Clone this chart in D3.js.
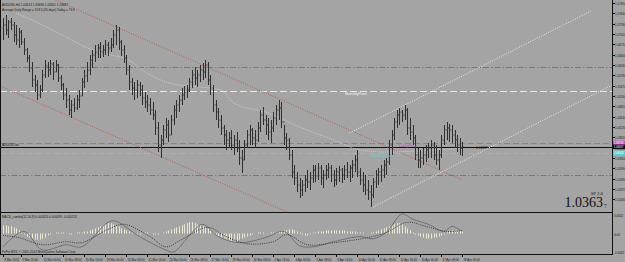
<!DOCTYPE html>
<html>
<head>
<meta charset="utf-8">
<script src="https://cdn.jsdelivr.net/npm/d3@7"></script>
<style>
body{margin:0;background:#a4a4a4;overflow:hidden;}
svg{display:block;}
</style>
</head>
<body>
<svg id="chart"></svg>
<script>
//////////////////////////////////////////////////////////////
// data (AUDUSD H4)
var highs = [
1.0750,1.0759,1.0744,1.0750,1.0738,1.0729,1.0720,1.0714,1.0690,1.0660,
1.0639,1.0618,1.0579,1.0564,1.0549,1.0594,1.0624,1.0618,1.0624,1.0618,
1.0624,1.0612,1.0579,1.0555,1.0540,1.0519,1.0504,1.0510,1.0519,1.0534,
1.0570,1.0594,1.0618,1.0639,1.0654,1.0669,1.0672,1.0678,1.0669,1.0684,
1.0678,1.0690,1.0714,1.0729,1.0723,1.0684,1.0669,1.0639,1.0609,1.0570,
1.0558,1.0564,1.0558,1.0549,1.0528,1.0519,1.0510,1.0498,1.0474,1.0438,
1.0399,1.0429,1.0450,1.0444,1.0459,1.0489,1.0504,1.0519,1.0540,1.0546,
1.0549,1.0570,1.0594,1.0603,1.0594,1.0609,1.0615,1.0624,1.0618,1.0579,
1.0549,1.0504,1.0480,1.0459,1.0429,1.0414,1.0408,1.0414,1.0399,1.0408,
1.0384,1.0354,1.0384,1.0414,1.0429,1.0420,1.0414,1.0438,1.0474,1.0483,
1.0459,1.0450,1.0444,1.0468,1.0489,1.0504,1.0498,1.0429,1.0405,1.0390,
1.0354,1.0309,1.0288,1.0270,1.0264,1.0279,1.0294,1.0288,1.0309,1.0309,
1.0315,1.0309,1.0294,1.0309,1.0315,1.0309,1.0294,1.0300,1.0306,1.0300,
1.0309,1.0318,1.0309,1.0324,1.0339,1.0354,1.0300,1.0288,1.0279,1.0264,
1.0249,1.0270,1.0294,1.0300,1.0309,1.0324,1.0330,1.0384,1.0414,1.0450,
1.0474,1.0480,1.0474,1.0489,1.0480,1.0450,1.0429,1.0399,1.0360,1.0354,
1.0360,1.0369,1.0375,1.0384,1.0378,1.0369,1.0354,1.0399,1.0429,1.0438,
1.0432,1.0429,1.0414,1.0399,1.0390,1.0378];

var lows = [
1.0684,1.0699,1.0690,1.0714,1.0678,1.0669,1.0660,1.0669,1.0639,1.0618,
1.0588,1.0543,1.0528,1.0504,1.0510,1.0528,1.0570,1.0573,1.0579,1.0564,
1.0588,1.0558,1.0534,1.0504,1.0480,1.0459,1.0450,1.0468,1.0474,1.0480,
1.0516,1.0540,1.0558,1.0579,1.0600,1.0618,1.0630,1.0630,1.0633,1.0639,
1.0636,1.0648,1.0660,1.0669,1.0654,1.0636,1.0615,1.0579,1.0534,1.0519,
1.0504,1.0510,1.0516,1.0489,1.0480,1.0468,1.0459,1.0444,1.0399,1.0348,
1.0330,1.0369,1.0390,1.0378,1.0399,1.0429,1.0450,1.0468,1.0489,1.0504,
1.0510,1.0528,1.0540,1.0549,1.0543,1.0558,1.0564,1.0570,1.0549,1.0519,
1.0468,1.0444,1.0420,1.0399,1.0369,1.0354,1.0360,1.0354,1.0339,1.0348,
1.0309,1.0285,1.0324,1.0360,1.0369,1.0369,1.0360,1.0378,1.0408,1.0429,
1.0399,1.0384,1.0375,1.0408,1.0429,1.0444,1.0420,1.0369,1.0354,1.0324,
1.0270,1.0249,1.0228,1.0210,1.0216,1.0228,1.0240,1.0234,1.0255,1.0258,
1.0264,1.0249,1.0240,1.0264,1.0270,1.0258,1.0243,1.0249,1.0258,1.0255,
1.0264,1.0270,1.0258,1.0270,1.0288,1.0273,1.0249,1.0228,1.0219,1.0204,
1.0183,1.0210,1.0240,1.0249,1.0258,1.0270,1.0279,1.0309,1.0339,1.0384,
1.0420,1.0429,1.0438,1.0444,1.0399,1.0384,1.0369,1.0324,1.0300,1.0300,
1.0309,1.0318,1.0330,1.0330,1.0324,1.0309,1.0294,1.0330,1.0369,1.0384,
1.0378,1.0375,1.0360,1.0348,1.0339,1.0336];

var closes = [
1.0729,1.0714,1.0738,1.0729,1.0699,1.0684,1.0708,1.0678,1.0654,1.0630,
1.0600,1.0564,1.0549,1.0519,1.0534,1.0579,1.0606,1.0594,1.0612,1.0588,
1.0609,1.0570,1.0549,1.0519,1.0504,1.0474,1.0489,1.0480,1.0504,1.0516,
1.0558,1.0576,1.0594,1.0624,1.0639,1.0648,1.0660,1.0648,1.0654,1.0669,
1.0660,1.0669,1.0699,1.0714,1.0678,1.0654,1.0630,1.0594,1.0558,1.0540,
1.0534,1.0549,1.0534,1.0510,1.0498,1.0489,1.0474,1.0459,1.0420,1.0369,
1.0384,1.0414,1.0429,1.0399,1.0444,1.0474,1.0489,1.0504,1.0519,1.0528,
1.0534,1.0558,1.0579,1.0570,1.0579,1.0594,1.0588,1.0609,1.0564,1.0540,
1.0489,1.0468,1.0444,1.0420,1.0399,1.0384,1.0390,1.0369,1.0384,1.0360,
1.0330,1.0324,1.0369,1.0399,1.0414,1.0390,1.0384,1.0420,1.0459,1.0444,
1.0429,1.0408,1.0420,1.0450,1.0474,1.0480,1.0438,1.0390,1.0384,1.0339,
1.0288,1.0270,1.0249,1.0234,1.0249,1.0264,1.0258,1.0270,1.0294,1.0276,
1.0300,1.0270,1.0279,1.0294,1.0300,1.0279,1.0264,1.0288,1.0294,1.0279,
1.0294,1.0288,1.0300,1.0309,1.0324,1.0288,1.0264,1.0249,1.0234,1.0228,
1.0219,1.0258,1.0279,1.0288,1.0294,1.0309,1.0318,1.0369,1.0399,1.0438,
1.0459,1.0468,1.0459,1.0474,1.0420,1.0408,1.0390,1.0339,1.0324,1.0330,
1.0339,1.0354,1.0360,1.0369,1.0339,1.0324,1.0339,1.0384,1.0414,1.0420,
1.0414,1.0399,1.0384,1.0369,1.0360,1.0363];

var firstOpen = 1.0720;

// light moving average, read at a few bars
var maBars = [5,11,24,34,41,48,53,60,67,75,83,88,101,113,126,136,146,164,174];
var maValues = [1.0765,1.0744,1.0693,1.0654,1.0639,1.0624,1.0594,1.0564,1.0549,1.0543,
                1.0534,1.0495,1.0465,1.0423,1.0384,1.0354,1.0348,1.0354,1.0360];

// horizontal levels
var levelNames = ["R1","MonthlyPivot","DailyPivot","Bid","WeeklyPivot","S1"];
var levelPrices = [1.0603,1.0531,1.0375,1.03637,1.0345,1.0279];

// trend lines: [bar, price] pairs
var channelTop = [[20,1.0804],[175,1.0264]];
var channelBottom = [[-1,1.0546],[110,1.0162]];
var upTop = [[132,1.0405],[224,1.0771]];
var upBottom = [[141,1.0183],[232,1.0549]];

// price scale labels
var priceTicks = [1.0795,1.0764,1.0733,1.0702,1.0671,1.0640,1.0609,1.0578,1.0547,1.0516,
                  1.0485,1.0454,1.0423,1.0392,1.0361,1.0330,1.0299,1.0268,1.0237,1.0206];

// time labels
var timeLabelBars = [0,7,15,23,31,39,47,55,63,71,79,87,95,103,111,119,127,135,143,151,159,167,175];
var timeLabels = ["8 Mar 2012","9 Mar 16:00","13 Mar 00:00","14 Mar 08:00","15 Mar 16:00",
  "19 Mar 00:00","20 Mar 08:00","21 Mar 16:00","23 Mar 00:00","26 Mar 08:00","27 Mar 16:00",
  "29 Mar 00:00","30 Mar 08:00","2 Apr 16:00","4 Apr 00:00","5 Apr 08:00","6 Apr 16:00",
  "10 Apr 00:00","11 Apr 08:00","12 Apr 16:00","16 Apr 00:00","17 Apr 08:00","18 Apr 16:00"];

// MACD window
var macdBars = [0,8,15,24,30,40,43,52,62,65,72,76,82,90,100,107,113,118,126,136,141,146,152,156,162,168,171,175];
var macdMain = [-0.0026,0.0004,-0.0032,-0.0022,-0.0026,0.0022,0.0024,-0.0006,-0.0032,-0.0036,
                0.0002,0.0018,-0.0006,-0.0018,-0.0008,0.0004,-0.0024,-0.0026,-0.0016,-0.0006,
                -0.0010,0.0002,0.0038,0.0028,0.0018,0.0004,0.0014,0.0004];
var signalBars = [0,6,15,24,30,40,46,56,62,68,78,85,93,103,108,116,126,139,146,154,161,169,175];
var macdSignal = [-0.0004,-0.0008,-0.0022,-0.0016,-0.0018,0.0008,0.0018,-0.0006,-0.0026,-0.0012,
                  0.0012,-0.0006,-0.0020,-0.0016,-0.0002,-0.0022,-0.0018,-0.0008,0.0002,0.0022,
                  0.0014,0.0004,0.0006];
var macdHist = [
0.0016,0.0016,0.0014,0.0014,0.0012,0.0010,0.0006,0.0002,-0.0002,
-0.0006,-0.0008,-0.0010,-0.0012,-0.0012,-0.0012,-0.0010,-0.0008,
-0.0004,-0.0002,0,0.0002,
0.0002,0.0002,0.0002,0,-0.0002,-0.0002,0,0.0002,0.0002,0.0002,0.0004,0.0004,0.0006,0.0008,0.0010,0.0012,
0.0014,0.0016,0.0018,0.0020,0.0020,0.0018,0.0016,0.0014,0.0010,0.0008,0.0006,0.0004,0.0002,
0,-0.0002,-0.0002,0,0.0002,0.0002,0,-0.0002,-0.0002,-0.0002,0,0.0002,0.0004,0.0006,0.0008,
0.0010,0.0012,0.0014,0.0016,0.0018,0.0020,0.0022,0.0022,0.0020,0.0018,0.0016,0.0014,0.0012,0.0010,0.0006,0.0002,
-0.0002,-0.0006,-0.0008,-0.0010,-0.0012,-0.0014,-0.0016,-0.0016,-0.0014,-0.0012,-0.0010,-0.0008,-0.0006,
-0.0004,-0.0002,0,0.0002,0.0002,0.0002,0,0,0.0002,0.0002,0.0002,0.0004,0.0004,0.0006,0.0006,
0.0008,0.0008,0.0006,0.0004,0.0002,-0.0002,-0.0004,-0.0004,-0.0002,
0.0002,0.0002,0.0004,0.0004,0.0004,0.0006,0.0006,0.0006,0.0006,0.0006,0.0006,0.0006,0.0006,0.0004,0.0004,0.0004,0.0004,0.0002,0.0002,0.0002,0,0,0.0002,
0.0002,0.0004,0.0006,0.0008,0.0010,0.0012,
0.0014,0.0016,0.0018,0.0020,0.0020,0.0018,0.0014,0.0010,0.0006,0.0002,
-0.0002,-0.0004,-0.0006,-0.0008,-0.0010,-0.0010,-0.0010,-0.0008,-0.0008,-0.0006,-0.0004,-0.0002,
0.0002,0.0004,0.0006,0.0006,0.0006,0.0006,0.0006];
var macdScaleLabels = ["0.0042","0.00","-0.0042"];
//////////////////////////////////////////////////////////////

var screen = {width:625, height:262};
var main = {left:0, right:612, top:0, bottom:212};
var sub = {top:213, bottom:254};

// tiny text helper: browsers clamp very small font sizes, so scale a 10px glyph
var addText = function(parent,x,y,str,size,fill,family,anchor)
{
    return parent.append("text")
        .attr("transform","translate("+x+","+y+") scale("+(size/10)+")")
        .attr("font-size",10)
        .attr("font-family",family || "'Liberation Sans',Arial,sans-serif")
        .attr("text-anchor",anchor || "start")
        .attr("fill",fill)
        .text(str);
}

var drawBars = function(g,xScale,yScale)
{
    var bars = g.append("g").attr("stroke","#303030").attr("stroke-width",1);
    highs.forEach(function(h,i)
    {
        var x = Math.round(xScale(i))+0.5;
        var open = i===0 ? firstOpen : closes[i-1];
        bars.append("line").attr("x1",x).attr("x2",x)
            .attr("y1",yScale(h)).attr("y2",yScale(lows[i]));
        bars.append("line").attr("x1",x-1).attr("x2",x)
            .attr("y1",yScale(open)).attr("y2",yScale(open));
        bars.append("line").attr("x1",x).attr("x2",x+1)
            .attr("y1",yScale(closes[i])).attr("y2",yScale(closes[i]));
    })
}

var drawLevels = function(g,yScale)
{
    var styles = {
        "R1":{stroke:"#c85656",dash:"6,2,1.5,2"},
        "MonthlyPivot":{stroke:"#e6e6e6",dash:"7,3"},
        "DailyPivot":{stroke:"#d24fd2",dash:"6,3"},
        "Bid":{stroke:"#101010",dash:null},
        "WeeklyPivot":{stroke:"#4fd6d6",dash:"6,3"},
        "S1":{stroke:"#c85656",dash:"6,2,1.5,2"}
    };
    levelNames.forEach(function(name,i)
    {
        var y = Math.round(yScale(levelPrices[i]))+0.5;
        g.append("line")
            .attr("x1",main.left).attr("x2",main.right)
            .attr("y1",y).attr("y2",y)
            .attr("stroke",styles[name].stroke)
            .attr("stroke-width",1)
            .attr("stroke-dasharray",styles[name].dash);
    })
}

var drawTrendLines = function(g,xScale,yScale)
{
    var line = d3.line()
        .x(function(p){return xScale(p[0]);})
        .y(function(p){return yScale(p[1]);});

    g.append("path").datum(channelTop).attr("d",line)
        .attr("fill","none").attr("stroke","#c85450").attr("stroke-dasharray","1,1.5");
    g.append("path").datum(channelBottom).attr("d",line)
        .attr("fill","none").attr("stroke","#c85450").attr("stroke-dasharray","1,1.5");
    g.append("path").datum(upTop).attr("d",line)
        .attr("fill","none").attr("stroke","#ececec").attr("stroke-dasharray","1,1.5");
    g.append("path").datum(upBottom).attr("d",line)
        .attr("fill","none").attr("stroke","#ececec").attr("stroke-dasharray","1,1.5");

    var maLine = d3.line()
        .x(function(d,i){return xScale(maBars[i]);})
        .y(function(d){return yScale(d);})
        .curve(d3.curveMonotoneX);
    g.append("path").datum(maValues).attr("d",maLine)
        .attr("fill","none").attr("stroke","#d4d4d4").attr("stroke-width",0.8)
        .attr("stroke-dasharray","1,1");
}

var drawMacd = function(svg,xScale)
{
    var mScale = d3.scaleLinear().domain([-0.0040,0.0040]).range([sub.bottom,sub.top]);
    var g = svg.append("g");

    var hist = g.append("g").attr("stroke","#ebe7cc").attr("stroke-width",1);
    macdHist.forEach(function(v,i)
    {
        var x = Math.round(xScale(i))+0.5;
        hist.append("line").attr("x1",x).attr("x2",x)
            .attr("y1",mScale(0)).attr("y2",mScale(v));
    })

    var mainLine = d3.line()
        .x(function(d,i){return xScale(macdBars[i]);})
        .y(function(d){return mScale(d);})
        .curve(d3.curveCatmullRom);
    var sigLine = d3.line()
        .x(function(d,i){return xScale(signalBars[i]);})
        .y(function(d){return mScale(d);})
        .curve(d3.curveCatmullRom);

    g.append("path").datum(macdMain).attr("d",mainLine)
        .attr("fill","none").attr("stroke","#6c6c6c").attr("stroke-width",0.9);
    g.append("path").datum(macdSignal).attr("d",sigLine)
        .attr("fill","none").attr("stroke","#2e2e2e").attr("stroke-width",0.9)
        .attr("stroke-dasharray","1,1.2");

    addText(svg,2,218,"MACD_combo(12,26,9) 0.000324 0.000099 -0.000274",3.1,"#1a1a1a");
    addText(svg,2,252.5,"FxPro MT4, \u00a9 2001-2014 MetaQuotes Software Corp.",3.1,"#1a1a1a");

    addText(svg,614,217,macdScaleLabels[0],3,"#1a1a1a");
    addText(svg,614,236,macdScaleLabels[1],3,"#1a1a1a");
    addText(svg,614,253.5,macdScaleLabels[2],3,"#1a1a1a");
}

var drawAxes = function(svg,xScale,yScale)
{
    var frame = svg.append("g").attr("stroke","#111").attr("stroke-width",1);
    frame.append("line").attr("x1",main.right+0.5).attr("x2",main.right+0.5)
        .attr("y1",0).attr("y2",sub.bottom+1);
    frame.append("line").attr("x1",0).attr("x2",main.right+1)
        .attr("y1",main.bottom+0.5).attr("y2",main.bottom+0.5);
    frame.append("line").attr("x1",0).attr("x2",main.right+1)
        .attr("y1",sub.bottom+0.5).attr("y2",sub.bottom+0.5);
    frame.append("line").attr("x1",0.5).attr("x2",0.5)
        .attr("y1",0).attr("y2",sub.bottom+1);

    // price scale
    priceTicks.forEach(function(p)
    {
        var y = Math.round(yScale(p))+0.5;
        frame.append("line").attr("x1",main.right).attr("x2",main.right+3)
            .attr("y1",y).attr("y2",y);
        addText(svg,615,y+1.2,p.toFixed(5),3,"#1a1a1a");
    })

    // level tags on the price scale
    var tags = [
        {price:levelPrices[2],fill:"#d24fd2",text:"#ffffff"},
        {price:levelPrices[4],fill:"#4fd6d6",text:"#ffffff"},
        {price:levelPrices[3],fill:"#0c0c0c",text:"#ffffff"}
    ];
    tags.forEach(function(t)
    {
        var y = yScale(t.price);
        svg.append("rect").attr("x",613).attr("y",y-2.2)
            .attr("width",12).attr("height",4.4).attr("fill",t.fill);
        addText(svg,614,y+1,t.price.toFixed(5),2.6,t.text);
    })

    // time scale
    timeLabelBars.forEach(function(b,i)
    {
        var x = Math.round(xScale(b))+0.5;
        frame.append("line").attr("x1",x).attr("x2",x)
            .attr("y1",sub.bottom).attr("y2",sub.bottom+3);
        addText(svg,x+1,260.5,timeLabels[i],2.9,"#1a1a1a");
    })
}

var createLabels = function(svg,xScale,yScale)
{
    addText(svg,2,5.5,"AUDUSD,H4  1.03613 1.03690 1.03561 1.03637",3.1,"#1a1a1a");
    addText(svg,2,11,"Average Daily Range = 103.5 (20 days)   Today = 74.6",3.1,"#1a1a1a");

    addText(svg,345,95,"MonthlyPivot",3.8,"#f4f4f4");
    addText(svg,399,146.5,"DailyPivot",4.2,"#d24fd2");
    addText(svg,371,157,"WeeklyPivot",4.2,"#4fd6d6");
    addText(svg,2,145.5,"AUDUSD,bu",3,"#1a1a1a");
    addText(svg,472,148.5,"\u2190 1.03637",3.2,"#1a1a1a");

    addText(svg,603,194.5,"SP 2.0",4.8,"#111","'Liberation Serif',serif","end");
    addText(svg,603,207,"1.0363",14,"#111","'Liberation Serif',serif","end");
    addText(svg,604,208,"7",5.5,"#111","'Liberation Serif',serif");
}

var initGraph = function(target)
{
    var svg = d3.select(target)
        .attr("width",screen.width)
        .attr("height",screen.height);

    svg.append("rect").attr("width",screen.width).attr("height",screen.height)
        .attr("fill","#a4a4a4");

    var xScale = d3.scaleLinear()
        .domain([0,175])
        .range([3,3+175*2.625]);

    var yScale = d3.scaleLinear()
        .domain([1.0168,1.0804])
        .range([main.bottom,main.top]);

    svg.append("clipPath").attr("id","mainClip")
        .append("rect").attr("x",1).attr("y",0)
        .attr("width",main.right-1).attr("height",main.bottom);

    var g = svg.append("g").attr("clip-path","url(#mainClip)");

    drawLevels(g,yScale);
    drawTrendLines(g,xScale,yScale);
    drawBars(g,xScale,yScale);
    drawMacd(svg,xScale);
    drawAxes(svg,xScale,yScale);
    createLabels(svg,xScale,yScale);
}

initGraph("#chart");
</script>
</body>
</html>
